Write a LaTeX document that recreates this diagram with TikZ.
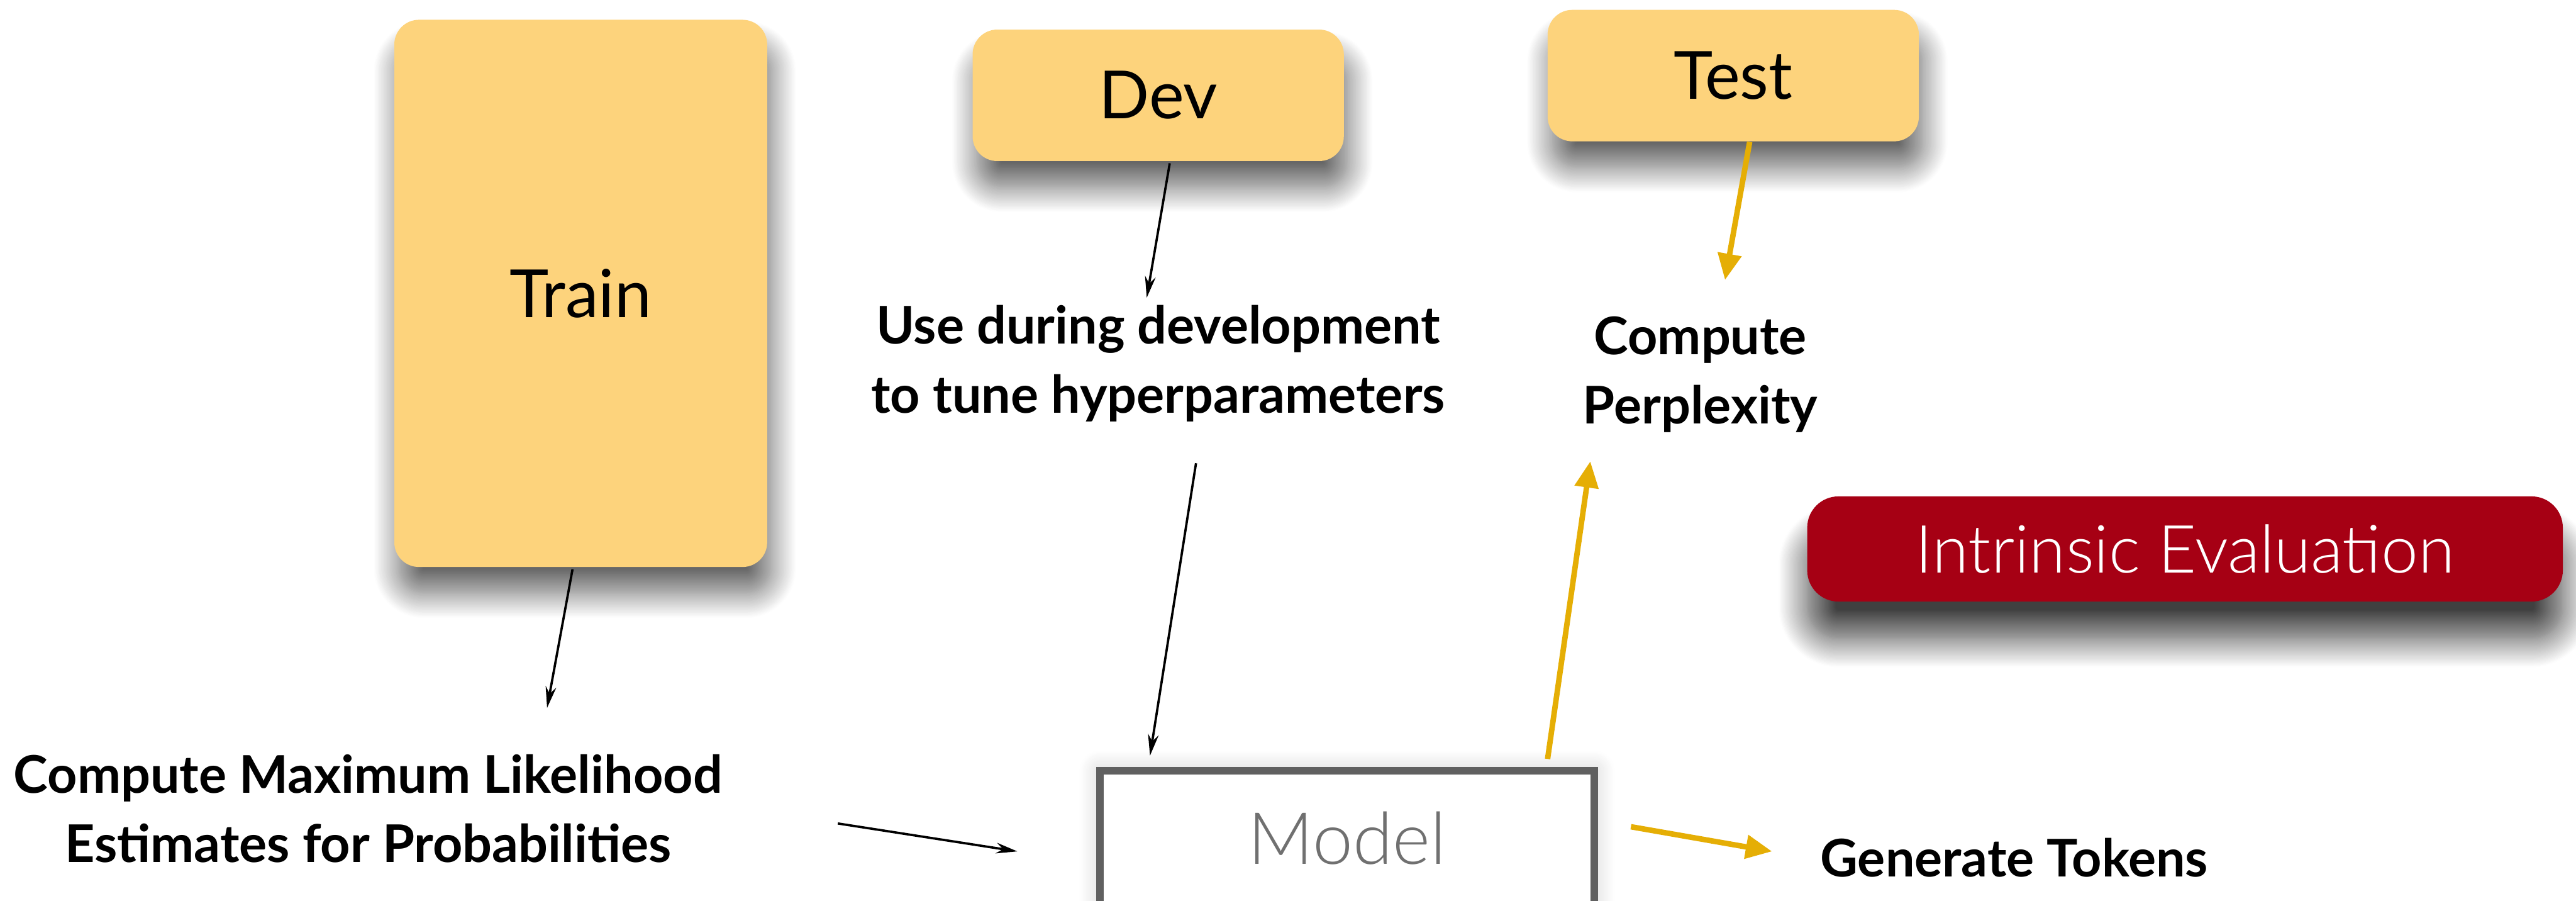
\documentclass[tikz,border=0pt]{standalone}
\usepackage{fontspec}
\setmainfont{Lato}
\newfontfamily\lightlato{Lato Light}
\usetikzlibrary{arrows.meta,calc,shadows.blur}
\definecolor{pad}{HTML}{FDD37C}
\definecolor{gold}{HTML}{E5AE05}
\definecolor{wine}{HTML}{A60014}
\definecolor{slate}{HTML}{606060}
\tikzset{
  split/.style={fill=pad, rounded corners=0.3cm, inner sep=0pt,
    font=\fontsize{23}{28}\selectfont,
    blur shadow={shadow xshift=0.05cm, shadow yshift=-0.32cm,
      shadow blur radius=0.3cm, shadow blur steps=24, shadow opacity=60}},
  note/.style={font=\fontsize{18}{24}\selectfont\bfseries, align=center, inner sep=0pt},
  thinarrow/.style={line width=0.8pt, -{Stealth[length=0.26cm,width=0.13cm]}},
  goldarrow/.style={gold, line width=1.9pt, -{Triangle[length=0.32cm,width=0.28cm]}},
}
\begin{document}
\begin{tikzpicture}[x=0.02cm,y=-0.02cm]
  \useasboundingbox (0,0) rectangle (1568,548);
  % data splits
  \node[split, minimum width=4.54cm, minimum height=6.66cm] (train) at (353.5,178.5) {Train};
  \node[split, minimum width=4.52cm, minimum height=1.6cm] (dev) at (705,58) {Dev};
  \node[split, minimum width=4.52cm, minimum height=1.6cm] (test) at (1055,46) {Test};
  % what each split is for
  \node[note] (mle) at (224,492) {Compute Maximum Likelihood\\Estimates for Probabilities};
  \node[note] (tune) at (705,221) {Use during development\\to tune hyperparameters};
  \node[note] (ppl) at (1035,228) {Compute\\Perplexity};
  \node[note] (gen) at (1226,522) {Generate Tokens};
  % the model
  \node[draw=slate, line width=0.09cm, fill=white, minimum width=6.02cm, minimum height=1.64cm,
    text=slate!90, font=\fontsize{25}{28}\selectfont\lightlato,
    blur shadow={shadow xshift=0cm, shadow yshift=0cm, shadow blur radius=0.25cm,
      shadow blur steps=16, shadow opacity=20}]
    (model) at (820,510) {Model};
  \node[fill=wine, text=white, rounded corners=0.38cm, minimum width=9.2cm, minimum height=1.28cm,
    font=\fontsize{23}{26}\selectfont\lightlato,
    blur shadow={shadow xshift=0cm, shadow yshift=-0.45cm, shadow blur radius=0.35cm,
      shadow blur steps=24, shadow opacity=75}]
    (intr) at (1330,334) {Intrinsic Evaluation};
  % black arrows
  \draw[thinarrow] ($(train.south)+(-5,1)$) -- ($(mle.north)+(109,-28)$);
  \draw[thinarrow] ($(dev.south)+(7,1)$) -- ($(tune.north)+(-7,-4)$);
  \draw[thinarrow] ($(tune.south)+(23,25)$) -- ($(model.north)+(-120,-7)$);
  \draw[thinarrow] ($(mle.east)+(70,9)$) -- ($(model.west)+(-48,8)$);
  % gold arrows
  \draw[goldarrow] ($(test.south)+(10,0)$) -- ($(ppl.north)+(15,-22)$);
  \draw[goldarrow] ($(model.north)+(122,-5)$) -- ($(ppl.south)+(-67,17)$);
  \draw[goldarrow] ($(model.east)+(20,-7)$) -- ($(gen.west)+(-29,-4)$);
\end{tikzpicture}
\end{document}
